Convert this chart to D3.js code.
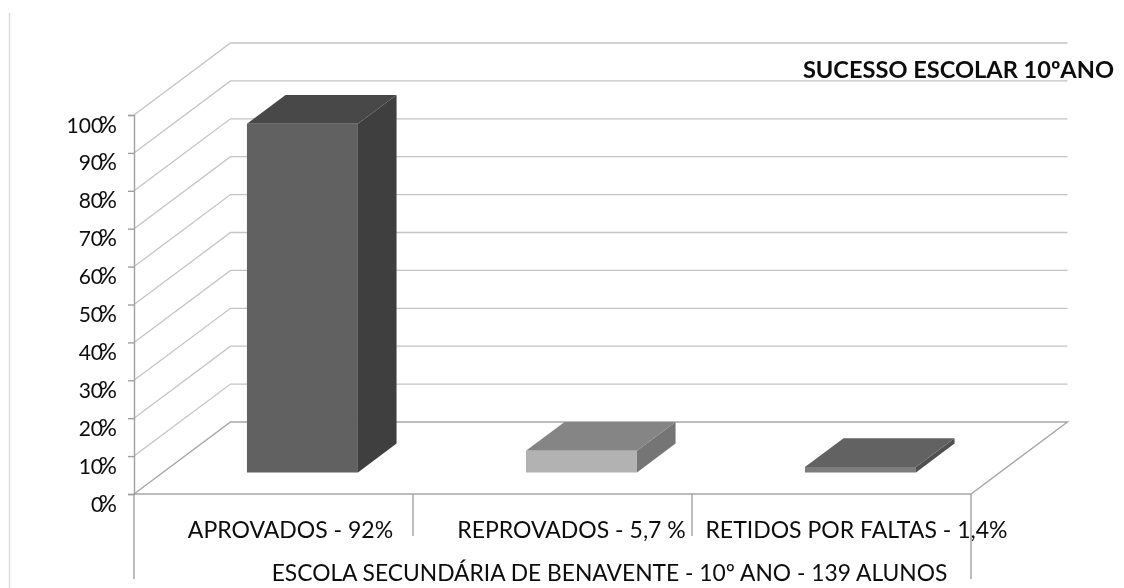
<!DOCTYPE html>
<html><head><meta charset="utf-8">
<style>html,body{margin:0;padding:0;background:#fff;overflow:hidden}svg{display:block}text{font-family:Lato,"Open Sans",sans-serif;fill:#0c0c0c}</style>
<script src="https://cdn.jsdelivr.net/npm/d3@7"></script></head><body>
<svg id="c" width="1124" height="588"><defs><filter id="soft" x="-5%" y="-20%" width="110%" height="140%"><feGaussianBlur stdDeviation="0.35"/></filter></defs></svg>
<script>
const categories = ["APROVADOS - 92%","REPROVADOS - 5,7 %","RETIDOS POR FALTAS - 1,4%"];
const values = [92,5.7,1.4];
const ticks = [0,10,20,30,40,50,60,70,80,90,100];
const frontColors = ["#616161","#b2b2b2","#7c7c7c"];
const topColors = ["#484848","#858585","#626262"];
const sideColors = ["#3f3f3f","#757575","#505050"];
const labelShift = [17,19,25];
const groupLabel = "ESCOLA SECUNDÁRIA DE BENAVENTE - 10º ANO - 139 ALUNOS";
const title = "SUCESSO ESCOLAR 10ºANO";

const svg = d3.select("#c");
const x = d3.scaleBand().domain(categories).range([134,971]).paddingInner(0).paddingOuter(0);
const y = d3.scaleLinear().domain([0,100]).range([494,115]);
const dx = d3.scaleLinear().domain([0,1]).range([0,96.5]);
const dy = d3.scaleLinear().domain([0,1]).range([0,72]);
const barW = 111;
const d0 = 0.3, d1 = 0.7;
const pt = (px,v,t)=>[px+dx(t), y(v)-dy(t)];
const poly = a=>a.map(p=>p.join(",")).join(" ");
const line = d3.line();

svg.append("line").attr("x1",9.5).attr("x2",9.5).attr("y1",13).attr("y2",588).attr("stroke","#dcdcdc").attr("stroke-width",1.5);

// walls
svg.append("g").selectAll("path").data(ticks.filter(t=>t>0)).join("path")
  .attr("fill","none").attr("stroke","#c4c4c4").attr("stroke-width",1.3)
  .attr("d",t=>line([pt(134,t,0),pt(134,t,1),pt(971,t,1)]));
// floor
svg.append("path").attr("fill","none").attr("stroke","#a6a6a6").attr("stroke-width",1.4)
  .attr("d",line([pt(134,0,0),pt(134,0,1),pt(971,0,1),pt(971,0,0),pt(134,0,0)]));

// bars
const bars = svg.append("g").selectAll("g").data(categories.map((c,i)=>({c,v:values[i],i}))).join("g");
const left = d=>x(d.c)+(x.bandwidth()-barW)/2;
bars.append("polygon").attr("fill",d=>sideColors[d.i])
  .attr("points",d=>{const r=left(d)+barW;return poly([pt(r,0,d0),pt(r,0,d1),pt(r,d.v,d1),pt(r,d.v,d0)]);});
bars.append("polygon").attr("fill",d=>topColors[d.i])
  .attr("points",d=>{const l=left(d),r=l+barW;return poly([pt(l,d.v,d0),pt(l,d.v,d1),pt(r,d.v,d1),pt(r,d.v,d0)]);});
bars.append("polygon").attr("fill",d=>frontColors[d.i])
  .attr("points",d=>{const l=left(d),r=l+barW;return poly([pt(l,0,d0),pt(l,d.v,d0),pt(r,d.v,d0),pt(r,0,d0)]);});

// y axis
const yAxis = d3.axisLeft(y).tickValues(ticks).tickSize(6).tickPadding(0).tickFormat(d=>d);
const gy = svg.append("g").attr("transform","translate(134,0)").call(yAxis);
gy.select(".domain").attr("stroke","#a0a0a0").attr("stroke-width",1.4);
gy.selectAll(".tick line").attr("stroke","#a0a0a0").attr("stroke-width",1.4);
gy.selectAll(".tick text").each(function(d){
  const s=d3.select(this);
  s.text(null).attr("x",-17).attr("y",17).attr("dy",null).attr("text-anchor","end")
   .style("font-size","21px").style("font-family","Lato").attr("filter","url(#soft)");
  s.append("tspan").text(d);
  s.append("tspan").attr("dx",-4.5).style("font-size","23px").text("%");
});

// separators
const seps = [[134,579],[x(categories[1]),536],[x(categories[2]),536],[971,579]];
svg.append("g").selectAll("line").data(seps).join("line")
  .attr("x1",d=>d[0]).attr("x2",d=>d[0]).attr("y1",494).attr("y2",d=>d[1])
  .attr("stroke","#a0a0a0").attr("stroke-width",1.4);

// category labels
svg.append("g").selectAll("text").data(categories).join("text")
  .attr("x",(c,i)=>x(c)+x.bandwidth()/2+labelShift[i]).attr("y",538).attr("text-anchor","middle")
  .attr("filter","url(#soft)").style("font-size","23px").text(c=>c);
svg.append("text").attr("x",609.5).attr("y",581).attr("text-anchor","middle").attr("filter","url(#soft)").style("font-size","22.8px").text(groupLabel);
svg.append("text").attr("x",1114).attr("y",78).attr("text-anchor","end").attr("filter","url(#soft)")
  .style("font-size","23.6px").style("font-weight","700").text(title);
</script></body></html>
